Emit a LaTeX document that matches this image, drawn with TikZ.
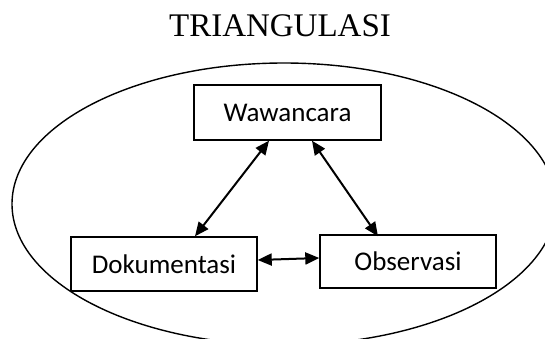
\documentclass[tikz,border=0pt]{standalone}
\usepackage{fontspec}
\setmainfont{Liberation Serif}
\newfontfamily\boxfont{Carlito}
\usetikzlibrary{arrows.meta}
\tikzset{
  boxnode/.style={draw, line width=1.4pt, fill=white, inner sep=0pt, font=\boxfont\fontsize{27}{31}\selectfont},
  biarrow/.style={line width=2pt, {Triangle[length=14pt,width=12pt]}-{Triangle[length=14pt,width=12pt]}}
}
\begin{document}
\begin{tikzpicture}[x=1pt,y=-1pt]
\useasboundingbox (0,0) rectangle (545,338);
\node[anchor=base, font=\fontsize{33}{38}\selectfont] (title) at (280,36.5) {TRIANGULASI};
\begin{scope}
\clip (0,0) rectangle (545,338);
\draw[line width=1.4pt] (284,204) ellipse [x radius=272pt, y radius=141pt];
\end{scope}
\node[boxnode, minimum width=187pt, minimum height=55pt] (w) at (287.5,112.5) {Wawancara};
\node[boxnode, minimum width=186pt, minimum height=54pt] (d) at (164,264) {Dokumentasi};
\node[boxnode, minimum width=176pt, minimum height=53pt] (o) at (408,261.5) {Observasi};
\draw[biarrow] ([xshift=-18.5pt]w.south) -- ([xshift=31pt]d.north);
\draw[biarrow] ([xshift=24.5pt]w.south) -- ([xshift=-30pt,yshift=-2pt]o.north);
\draw[biarrow] ([yshift=4pt]d.east) -- ([yshift=3.5pt]o.west);
\end{tikzpicture}
\end{document}
